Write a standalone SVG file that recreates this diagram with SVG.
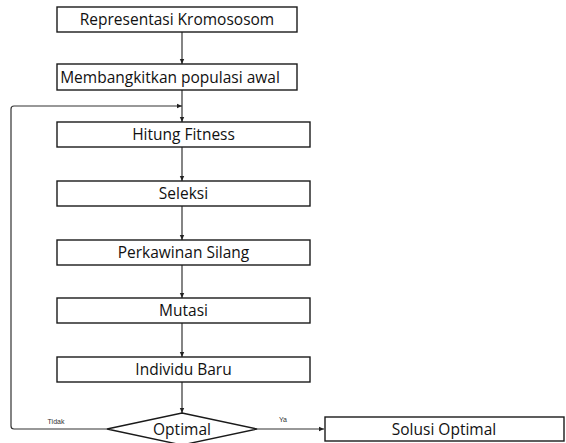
<svg xmlns="http://www.w3.org/2000/svg" width="566" height="443" viewBox="0 0 566 443">
  <defs>
    <marker id="arrow" markerWidth="6" markerHeight="6" refX="5" refY="3" orient="auto" markerUnits="userSpaceOnUse">
      <path d="M0,0.8 L5,3 L0,5.2 Z" fill="#222"/>
    </marker>
    <style>
      .box { fill: #ffffff; stroke: #1a1a1a; stroke-width: 1.4; }
      .label { font-family: "Open Sans", "Liberation Sans", sans-serif; font-size: 15.5px; fill: #111; text-anchor: middle; }
      .small { font-family: "Liberation Sans", sans-serif; font-size: 7px; fill: #333; text-anchor: middle; }
      .link { fill: none; stroke: #333; stroke-width: 1.2; }
    </style>
  </defs>
  <rect width="566" height="443" fill="#ffffff"/>

  <!-- connectors -->
  <g id="connectors">
    <line class="link" x1="182" y1="32" x2="182" y2="64" marker-end="url(#arrow)"/>
    <line class="link" x1="182" y1="90" x2="182" y2="122" marker-end="url(#arrow)"/>
    <path class="link" d="M107,429 L14,429 Q11,429 11,426 L11,109 Q11,106 14,106 L182,106" marker-end="url(#arrow)"/>
    <line class="link" x1="182" y1="147" x2="182" y2="181" marker-end="url(#arrow)"/>
    <line class="link" x1="182" y1="206" x2="182" y2="240" marker-end="url(#arrow)"/>
    <line class="link" x1="182" y1="265" x2="182" y2="298" marker-end="url(#arrow)"/>
    <line class="link" x1="182" y1="323" x2="182" y2="357" marker-end="url(#arrow)"/>
    <line class="link" x1="182" y1="382" x2="182" y2="413" marker-end="url(#arrow)"/>
    <line class="link" x1="257" y1="429" x2="324" y2="429" marker-end="url(#arrow)"/>
    <text class="small" x="56" y="424">Tidak</text>
    <text class="small" x="283" y="422">Ya</text>
  </g>

  <g id="node-representasi">
    <rect class="box" x="57" y="7" width="240" height="25"/>
    <text class="label" x="177" y="25">Representasi Kromososom</text>
  </g>
  <g id="node-populasi">
    <rect class="box" x="57" y="64" width="240" height="26"/>
    <text class="label" x="170" y="82.5">Membangkitkan populasi awal</text>
  </g>
  <g id="node-fitness">
    <rect class="box" x="57" y="122" width="253" height="25"/>
    <text class="label" x="183.5" y="140">Hitung Fitness</text>
  </g>
  <g id="node-seleksi">
    <rect class="box" x="57" y="181" width="253" height="25"/>
    <text class="label" x="183.5" y="199">Seleksi</text>
  </g>
  <g id="node-perkawinan">
    <rect class="box" x="57" y="240" width="253" height="25"/>
    <text class="label" x="183.5" y="258">Perkawinan Silang</text>
  </g>
  <g id="node-mutasi">
    <rect class="box" x="57" y="298" width="253" height="25"/>
    <text class="label" x="183.5" y="316">Mutasi</text>
  </g>
  <g id="node-individu">
    <rect class="box" x="57" y="357" width="253" height="25"/>
    <text class="label" x="183.5" y="375">Individu Baru</text>
  </g>
  <g id="node-optimal">
    <polygon class="box" points="182,413 257,429 182,445 107,429"/>
    <text class="label" x="182" y="435">Optimal</text>
  </g>
  <g id="node-solusi">
    <rect class="box" x="325" y="417" width="239" height="24"/>
    <text class="label" x="444" y="435">Solusi Optimal</text>
  </g>
</svg>
